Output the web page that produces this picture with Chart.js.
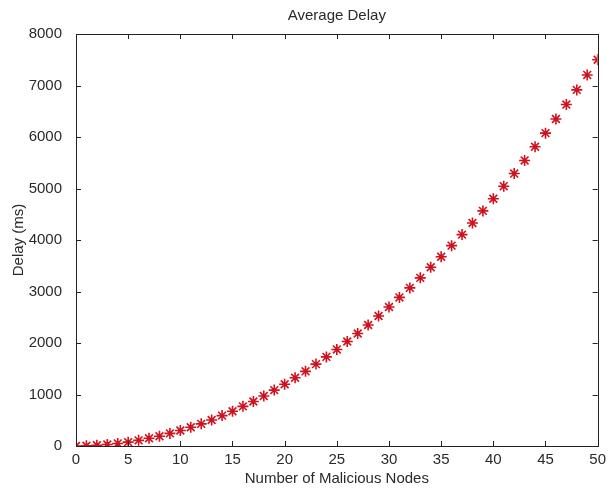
<!DOCTYPE html>
<html>
<head>
<meta charset="utf-8">
<script src="https://cdn.jsdelivr.net/npm/chart.js@4.4.0/dist/chart.umd.min.js"></script>
<style>
  body { margin: 0; background: #fff; }
  #wrap { width: 611px; height: 492px; }
</style>
</head>
<body>
<div id="wrap"><canvas id="delayChart" width="611" height="492"></canvas></div>
<script>
// values
const nodes = [0, 1, 2, 3, 4, 5, 6, 7, 8, 9, 10, 11, 12, 13, 14, 15, 16, 17, 18, 19, 20,
               21, 22, 23, 24, 25, 26, 27, 28, 29, 30, 31, 32, 33, 34, 35, 36, 37, 38, 39, 40,
               41, 42, 43, 44, 45, 46, 47, 48, 49, 50];
const delay = [0, 5, 15, 30, 50, 75, 110, 150, 190, 245, 300, 365, 430, 505, 590, 675, 770, 865, 970, 1085, 1200,
               1325, 1450, 1590, 1730, 1875, 2030, 2185, 2350, 2525, 2700, 2885, 3070, 3265, 3470, 3675, 3890, 4105, 4330, 4565, 4800,
               5045, 5290, 5545, 5810, 6075, 6350, 6630, 6915, 7205, 7500];
const xRange = [0, 50];
const yRange = [0, 8000];
const xStep = 5;
const yStep = 1000;

const FONT = 'Liberation Sans, Arial, sans-serif';
const TEXT = '#2a2a2a';

// MATLAB style box with inward ticks on all four sides
const boxTicks = {
    id: 'boxTicks',
    afterDraw(chart) {
        const ctx = chart.ctx;
        const a = chart.chartArea;
        const xs = chart.scales.x, ys = chart.scales.y;
        const len = 5;
        ctx.save();
        ctx.strokeStyle = '#222';
        ctx.lineWidth = 1;
        ctx.beginPath();
        xs.ticks.forEach((t, i) => {
            const px = Math.round(xs.getPixelForTick(i)) + 0.5;
            ctx.moveTo(px, a.bottom); ctx.lineTo(px, a.bottom - len);
            ctx.moveTo(px, a.top); ctx.lineTo(px, a.top + len);
        });
        ys.ticks.forEach((t, i) => {
            const py = Math.round(ys.getPixelForTick(i)) + 0.5;
            ctx.moveTo(a.left, py); ctx.lineTo(a.left + len, py);
            ctx.moveTo(a.right, py); ctx.lineTo(a.right - len, py);
        });
        ctx.stroke();
        ctx.strokeRect(Math.round(a.left) + 0.5, Math.round(a.top) + 0.5,
                       Math.round(a.right - a.left), Math.round(a.bottom - a.top));
        ctx.restore();
    }
};

new Chart(document.getElementById('delayChart'), {
    type: 'scatter',
    data: {
        datasets: [{
            label: 'Average Delay',
            data: nodes.map((n, i) => ({ x: n, y: delay[i] })),
            pointStyle: 'star',
            radius: 5.5,
            borderColor: '#d0121e',
            backgroundColor: '#d0121e',
            borderWidth: 1.6
        }]
    },
    options: {
        responsive: false,
        animation: false,
        layout: { padding: { left: 0, right: 12, top: 0, bottom: 0 } },
        plugins: {
            legend: { display: false },
            tooltip: { enabled: false }
        },
        scales: {
            x: {
                type: 'linear',
                min: xRange[0], max: xRange[1],
                grid: { display: false, drawTicks: false },
                border: { display: false },
                ticks: {
                    stepSize: xStep, padding: 5, color: TEXT, font: { family: FONT, size: 15 },
                    callback: v => String(v)
                },
                title: {
                    display: true, text: 'Number of Malicious Nodes', color: TEXT,
                    font: { family: FONT, size: 15 }, padding: { top: 0, bottom: 4 }
                },
                afterFit(scale) { scale.height = 46; }
            },
            top: {
                type: 'linear', position: 'top',
                min: xRange[0], max: xRange[1],
                grid: { display: false, drawTicks: false },
                border: { display: false },
                ticks: { display: false },
                title: {
                    display: true, text: 'Average Delay', color: TEXT,
                    font: { family: FONT, size: 15 }, padding: { top: 7, bottom: 0 }
                },
                afterFit(scale) { scale.height = 34; }
            },
            y: {
                type: 'linear',
                min: yRange[0], max: yRange[1],
                grid: { display: false, drawTicks: false },
                border: { display: false },
                ticks: {
                    stepSize: yStep, padding: 14, color: TEXT, font: { family: FONT, size: 15 },
                    callback: v => String(v)
                },
                title: {
                    display: true, text: 'Delay (ms)', color: TEXT,
                    font: { family: FONT, size: 15 }, padding: { top: 10, bottom: 0 }
                },
                afterFit(scale) { scale.width = 76; }
            }
        }
    },
    plugins: [boxTicks]
});
</script>
</body>
</html>
